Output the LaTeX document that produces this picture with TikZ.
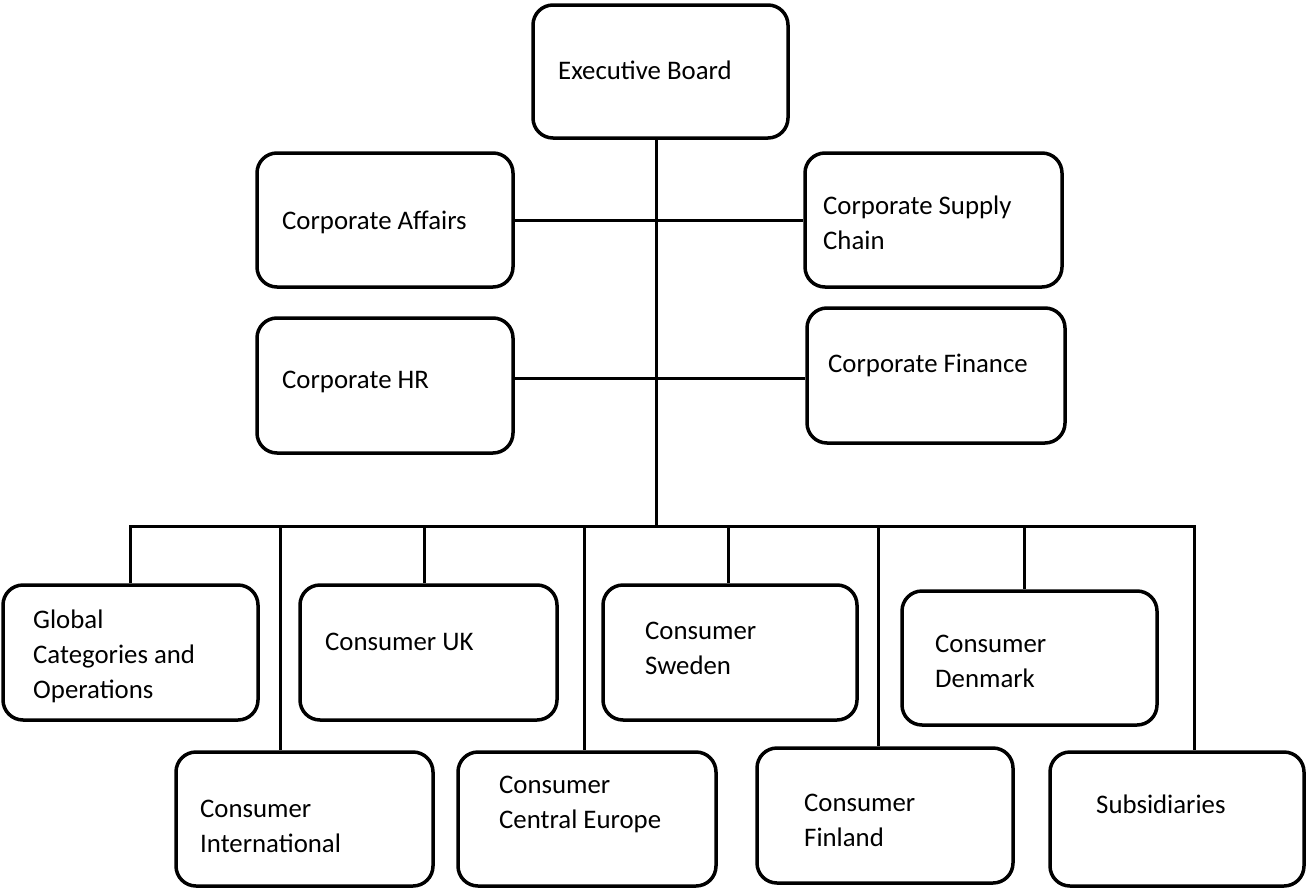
\documentclass[tikz,border=0pt]{standalone}
\usepackage{fontspec}
\setmainfont{Carlito}
\begin{document}
\begin{tikzpicture}[x=1pt,y=-1pt,
  unitbox/.style={draw=black, line width=3.5pt, rounded corners=20pt, inner sep=0pt, fill=white},
  unittext/.style={anchor=base west, inner sep=0pt, align=left, font=\fontsize{26.8}{35}\selectfont},
  link/.style={draw=black, line width=3pt}]
\useasboundingbox (0,0) rectangle (1307,889);

% organisational units
\node[unitbox, minimum width=255pt, minimum height=133pt] (exec)    at (660.5,71.5) {};
\node[unitbox, minimum width=256pt, minimum height=134pt] (affairs) at (385,220)    {};
\node[unitbox, minimum width=257pt, minimum height=134pt] (supply)  at (933.5,220)  {};
\node[unitbox, minimum width=256pt, minimum height=135pt] (hr)      at (385,385.5)  {};
\node[unitbox, minimum width=258pt, minimum height=135pt] (finance) at (936,375.5)  {};
\node[unitbox, minimum width=255pt, minimum height=135pt] (global)  at (130.5,652.5){};
\node[unitbox, minimum width=257pt, minimum height=135pt] (uk)      at (428.5,652.5){};
\node[unitbox, minimum width=254pt, minimum height=135pt] (sweden)  at (730,652.5)  {};
\node[unitbox, minimum width=255pt, minimum height=134pt] (denmark) at (1029.5,658) {};
\node[unitbox, minimum width=257pt, minimum height=134pt] (intl)    at (304.5,819)  {};
\node[unitbox, minimum width=258pt, minimum height=134pt] (central) at (587,819)    {};
\node[unitbox, minimum width=256pt, minimum height=135pt] (finland) at (885,815.5)  {};
\node[unitbox, minimum width=254pt, minimum height=134pt] (subs)    at (1177,819)   {};

% labels (placed by the baseline of their last line)
\node[unittext] (exec-t)    at (558,79)   {Executive Board};
\node[unittext] (affairs-t) at (282,229)  {Corporate Affairs};
\node[unittext] (supply-t)  at (823,249)  {Corporate Supply\\Chain};
\node[unittext] (hr-t)      at (282,388)  {Corporate HR};
\node[unittext] (finance-t) at (828,372)  {Corporate Finance};
\node[unittext] (global-t)  at (33,698)   {Global\\Categories and\\Operations};
\node[unittext] (uk-t)      at (325,650)  {Consumer UK};
\node[unittext] (sweden-t)  at (645,674)  {Consumer\\Sweden};
\node[unittext] (denmark-t) at (935,687)  {Consumer\\Denmark};
\node[unittext] (intl-t)    at (200,852)  {Consumer\\International};
\node[unittext] (central-t) at (499,828)  {Consumer\\Central Europe};
\node[unittext] (finland-t) at (804,846)  {Consumer\\Finland};
\node[unittext] (subs-t)    at (1096,813) {Subsidiaries};

% bus points
\coordinate (hrline) at (0,378);
\coordinate (bmid)  at (656,526);
\coordinate (bgl)   at (130,526);
\coordinate (bint)  at (280,526);
\coordinate (buk)   at (424,526);
\coordinate (bcen)  at (584,526);
\coordinate (bswe)  at (728,526);
\coordinate (bfin)  at (878,526);
\coordinate (bden)  at (1024,526);
\coordinate (bsub)  at (1194,526);

% connectors
\draw[link] (exec.south -| bmid) -- (bmid);
\draw[link] (affairs.east) -- (supply.west);
\draw[link] (hr.east |- hrline) -- (finance.west |- hrline);
\draw[link] (global.north -| bgl) -- (bgl) -- (bsub) -- (subs.north -| bsub);
\draw[link] (bint) -- (intl.north -| bint);
\draw[link] (buk)  -- (uk.north -| buk);
\draw[link] (bcen) -- (central.north -| bcen);
\draw[link] (bswe) -- (sweden.north -| bswe);
\draw[link] (bfin) -- (finland.north -| bfin);
\draw[link] (bden) -- (denmark.north -| bden);
\end{tikzpicture}
\end{document}
